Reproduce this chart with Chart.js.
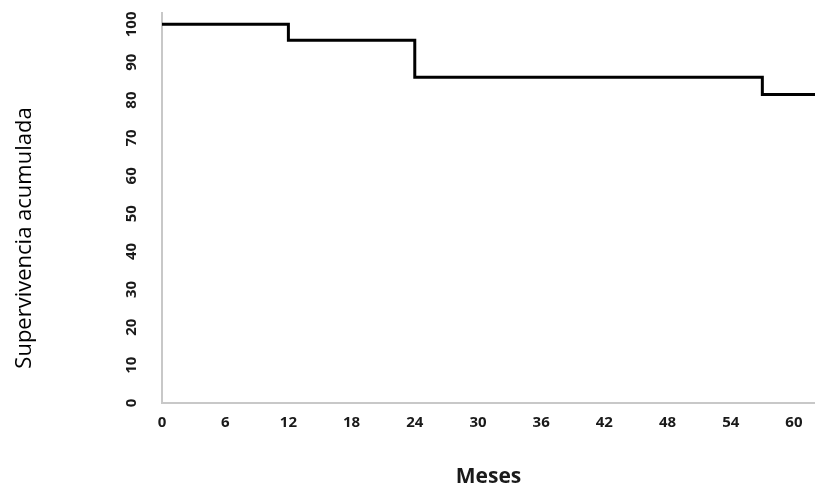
<!DOCTYPE html>
<html>
<head>
<meta charset="utf-8">
<script src="https://cdn.jsdelivr.net/npm/chart.js@4/dist/chart.umd.min.js"></script>
<style>
  html, body { margin: 0; padding: 0; background: #ffffff; }
  #wrap { width: 815px; height: 486px; position: relative; }
</style>
</head>
<body>
<div id="wrap"><canvas id="c" width="815" height="486"></canvas></div>
<script>
// Data
const months = [0, 12, 24, 57, 62];
const survival = [100, 95.8, 86, 81.5, 81.5];
const xTickValues = [0, 6, 12, 18, 24, 30, 36, 42, 48, 54, 60];
const yTickValues = [0, 10, 20, 30, 40, 50, 60, 70, 80, 90, 100];
const xTitle = 'Meses';
const yTitle = 'Supervivencia acumulada';

const points = months.map((m, i) => ({ x: m, y: survival[i] }));

const yLabelPlugin = {
  id: 'yLabels',
  afterDraw(chart) {
    const ctx = chart.ctx;
    const ys = chart.scales.y;
    ctx.save();
    ctx.fillStyle = '#1a1a1a';
    ctx.font = 'bold 15px "Open Sans", sans-serif';
    ctx.textAlign = 'center';
    ctx.textBaseline = 'middle';
    yTickValues.forEach(v => {
      const py = ys.getPixelForValue(v);
      ctx.save();
      ctx.translate(132, py);
      ctx.rotate(-Math.PI / 2);
      ctx.fillText(String(v), 0, 0);
      ctx.restore();
    });
    ctx.font = '22px "Open Sans", sans-serif';
    ctx.fillStyle = '#000';
    ctx.translate(25, 238);
    ctx.rotate(-Math.PI / 2);
    ctx.fillText(yTitle, 0, 0);
    ctx.restore();
  }
};

new Chart(document.getElementById('c'), {
  type: 'line',
  data: {
    datasets: [{
      data: points,
      borderColor: '#000000',
      borderWidth: 3,
      pointRadius: 0,
      stepped: 'before',
      fill: false
    }]
  },
  options: {
    responsive: false,
    animation: false,
    layout: { padding: { top: 13, right: 0, left: 0, bottom: 0 } },
    plugins: { legend: { display: false }, tooltip: { enabled: false } },
    scales: {
      x: {
        type: 'linear',
        min: 0,
        max: 62,
        afterBuildTicks: s => { s.ticks = xTickValues.map(v => ({ value: v })); },
        afterFit: s => { s.height = 83; },
        grid: { display: false, drawTicks: false },
        border: { display: true, color: '#c8c8c8', width: 2 },
        ticks: {
          padding: 11,
          color: '#1a1a1a',
          font: { family: '"Open Sans", sans-serif', size: 15, weight: 'bold' },
          maxRotation: 0,
          autoSkip: false
        },
        title: {
          display: true,
          text: xTitle,
          color: '#1a1a1a',
          font: { family: '"Open Sans", sans-serif', size: 21, weight: 'bold' },
          padding: { top: 0, bottom: -4 }
        }
      },
      y: {
        type: 'linear',
        min: 0,
        max: 103,
        afterBuildTicks: s => { s.ticks = yTickValues.map(v => ({ value: v })); },
        afterFit: s => { s.width = 162; },
        grid: { display: false, drawTicks: false },
        border: { display: true, color: '#c8c8c8', width: 2 },
        ticks: { display: false },
        title: { display: false }
      }
    }
  },
  plugins: [yLabelPlugin]
});
</script>
</body>
</html>
